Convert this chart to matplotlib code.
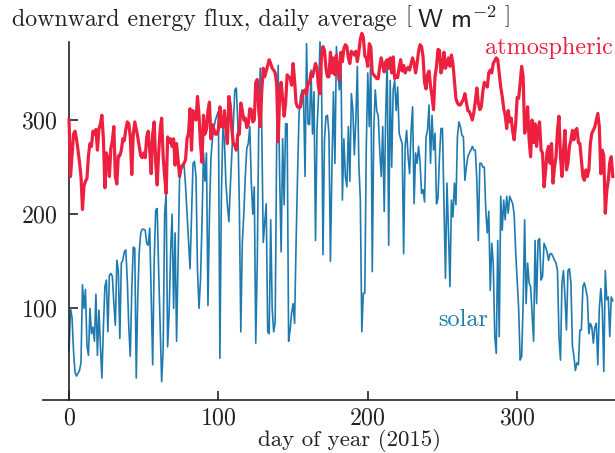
import matplotlib
matplotlib.use("Agg")
import matplotlib.pyplot as plt
import numpy as np

# daily mean downward flux [W m^-2] (day 0 .. 364)
ATMOS = [
    300, 240, 262, 285, 288, 280, 268, 255, 240, 205,
    230, 235, 238, 262, 275, 272, 288, 285, 290, 268,
    290, 296, 305, 280, 228, 265, 258, 240, 270, 278,
    293, 240, 232, 262, 262, 268, 280, 278, 290, 298,
    296, 282, 242, 285, 298, 290, 282, 272, 262, 260,
    265, 260, 282, 288, 268, 243, 285, 298, 255, 231,
    265, 290, 302, 261, 240, 222, 282, 276, 280, 272,
    280, 252, 275, 258, 240, 250, 252, 254, 258, 280,
    286, 312, 268, 310, 305, 300, 325, 305, 275, 255,
    305, 285, 290, 310, 319, 280, 295, 290, 285, 285,
    290, 314, 293, 293, 310, 290, 275, 325, 315, 290,
    275, 273, 268, 285, 285, 318, 310, 300, 302, 292,
    296, 312, 311, 298, 300, 340, 343, 310, 293, 330,
    355, 346, 352, 358, 364, 360, 355, 353, 350, 338,
    277, 325, 340, 322, 304, 318, 348, 346, 344, 337,
    360, 342, 318, 314, 313, 314, 324, 330, 332, 328,
    340, 339, 350, 346, 353, 360, 355, 335, 328, 367,
    378, 374, 355, 346, 346, 372, 350, 366, 348, 369,
    354, 342, 372, 362, 376, 380, 378, 366, 360, 373,
    371, 369, 373, 362, 372, 386, 392, 388, 368, 366,
    357, 381, 378, 350, 348, 346, 344, 344, 357, 366,
    358, 351, 362, 364, 355, 366, 350, 367, 344, 347,
    345, 356, 364, 352, 358, 350, 354, 356, 353, 360,
    366, 360, 350, 360, 373, 380, 378, 367, 340, 333,
    348, 352, 336, 325, 311, 346, 357, 375, 374, 350,
    356, 372, 355, 360, 366, 357, 369, 360, 342, 323,
    318, 316, 316, 319, 322, 328, 319, 310, 309, 305,
    300, 308, 320, 334, 318, 311, 314, 330, 340, 338,
    335, 350, 353, 350, 360, 363, 366, 364, 350, 335,
    325, 312, 305, 291, 310, 298, 302, 288, 279, 296,
    324, 323, 339, 357, 346, 286, 293, 314, 279, 261,
    300, 276, 296, 272, 290, 298, 268, 265, 229, 245,
    266, 272, 254, 275, 233, 250, 261, 289, 304, 261,
    240, 268, 289, 247, 254, 272, 279, 289, 279, 289,
    291, 276, 275, 258, 240, 236, 247, 240, 247, 275,
    286, 289, 293, 300, 307, 293, 243, 268, 262, 201,
    225, 236, 255, 261, 240,
]

SOLAR = [
    55, 100, 90, 55, 32, 28, 31, 34, 42, 125,
    100, 120, 60, 50, 100, 73, 80, 65, 115, 50,
    98, 60, 26, 80, 123, 130, 75, 135, 137, 134,
    105, 82, 151, 140, 68, 148, 151, 160, 162, 130,
    80, 49, 120, 165, 164, 26, 112, 160, 180, 184,
    184, 183, 169, 167, 185, 112, 40, 150, 204, 206,
    140, 80, 22, 56, 200, 222, 59, 95, 160, 200,
    100, 180, 65, 150, 238, 247, 250, 252, 230, 200,
    170, 142, 200, 254, 256, 240, 140, 100, 130, 190,
    266, 235, 265, 103, 200, 260, 280, 292, 300, 305,
    309, 47, 219, 293, 279, 233, 210, 192, 230, 265,
    296, 332, 334, 296, 210, 75, 170, 200, 240, 270,
    275, 293, 235, 200, 229, 63, 148, 293, 355, 295,
    170, 190, 211, 75, 73, 194, 100, 75, 85, 275,
    358, 240, 160, 280, 210, 296, 296, 65, 77, 95,
    105, 84, 169, 243, 307, 325, 332, 325, 240, 381,
    296, 295, 353, 285, 330, 172, 290, 325, 383, 350,
    157, 279, 304, 305, 285, 150, 250, 330, 254, 378,
    350, 332, 371, 215, 280, 240, 229, 293, 235, 328,
    311, 263, 300, 357, 254, 215, 75, 116, 116, 272,
    350, 293, 367, 139, 289, 332, 310, 304, 268, 240,
    293, 203, 307, 364, 167, 342, 250, 332, 342, 310,
    335, 286, 280, 275, 158, 272, 289, 261, 243, 289,
    314, 211, 265, 254, 272, 255, 222, 226, 213, 282,
    289, 316, 254, 305, 268, 286, 211, 217, 261, 291,
    291, 211, 132, 233, 183, 123, 215, 197, 233, 210,
    282, 298, 293, 284, 282, 236, 250, 261, 265, 268,
    272, 268, 268, 236, 172, 254, 254, 250, 250, 204,
    180, 203, 119, 169, 148, 70, 52, 172, 70, 219,
    183, 215, 194, 219, 201, 219, 215, 211, 200, 160,
    130, 100, 45, 49, 105, 194, 105, 148, 127, 123,
    95, 65, 172, 105, 172, 174, 130, 134, 169, 165,
    160, 151, 158, 158, 155, 151, 148, 140, 70, 45,
    127, 140, 112, 77, 140, 142, 127, 60, 49, 34,
    42, 40, 77, 77, 123, 127, 120, 112, 73, 84,
    80, 63, 80, 84, 40, 100, 121, 100, 33, 140,
    109, 112, 70, 112, 108,
]

X_TICKS = [0, 100, 200, 300]
Y_TICKS = [100, 200, 300]

RED = "#ee2040"
BLUE = "#1f7baf"
INK = "#222222"
FS = 17.2

plt.rcParams["font.family"] = "serif"
plt.rcParams["font.serif"] = ["cmr10"]
plt.rcParams["mathtext.fontset"] = "cm"
plt.rcParams["axes.formatter.use_mathtext"] = True

fig = plt.figure(figsize=(6.15, 4.53), dpi=100)
ax = fig.add_axes([0.070, 0.117, 0.930, 0.791])

days = np.arange(len(ATMOS))
ax.plot(days, SOLAR, color=BLUE, lw=1.2, clip_on=False, zorder=2)
ax.plot(days, ATMOS, color=RED, lw=2.3, clip_on=False, zorder=3)

ax.set_xlim(-17.4, 365.5)
ax.set_ylim(2.6, 383.2)
ax.set_xticks(X_TICKS)
ax.set_yticks(Y_TICKS)

for s in ("top", "right"):
    ax.spines[s].set_visible(False)
ax.spines["left"].set_position(("data", 0))
for s in ("left", "bottom"):
    ax.spines[s].set_color(INK)
    ax.spines[s].set_linewidth(1.2)
ax.tick_params(direction="in", length=6.5, width=1.2, color=INK,
               labelsize=FS, labelcolor=INK)
ax.tick_params(axis="y", pad=8)
ax.tick_params(axis="x", pad=5)

ax.text(278.4, 376.5, "atmospheric", color=RED, fontsize=17.5,
        ha="left", va="center")
ax.text(247, 87.6, "solar", color=BLUE, fontsize=17.5, ha="left", va="center")

# title in two pieces: serif words, then the sans unit in brackets
fig.text(12 / 615, 1 - 20 / 453, "downward energy flux, daily average",
         fontsize=FS, color=INK, ha="left", va="center")
fig.text(405 / 615, 1 - 20 / 453,
         r"$\left[\;\mathsf{W\ m}^{-2}\;\right]$",
         fontsize=19, color=INK, ha="left", va="center")
fig.text(350 / 615, 1 - 440.5 / 453, "day of year (2015)", fontsize=16.5,
         color=INK, ha="center", va="center")

fig.savefig("out.png", dpi=100)
